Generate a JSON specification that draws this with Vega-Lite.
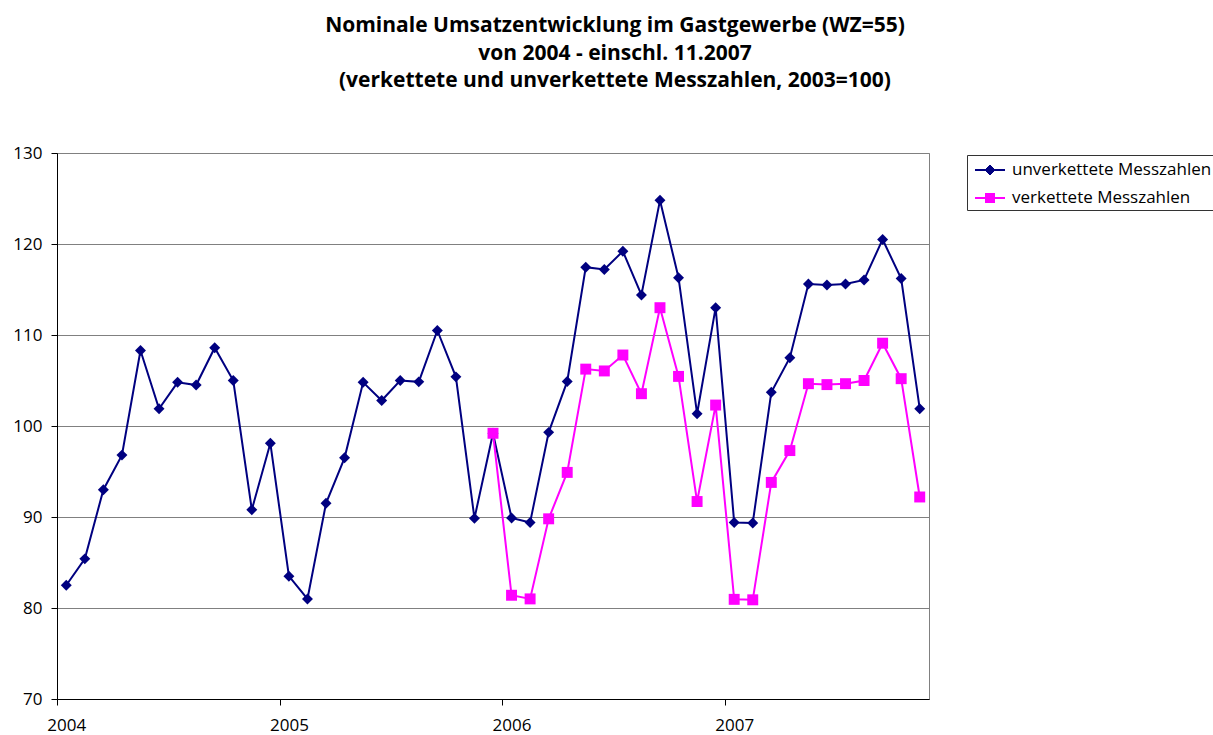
{
  "$schema": "https://vega.github.io/schema/vega-lite/v6.json",
  "width": 872,
  "height": 546,
  "autosize": "none",
  "padding": {"left": 57, "top": 153, "right": 284, "bottom": 36},
  "background": "white",
  "config": {
    "font": "Open Sans",
    "view": {"stroke": "#808080", "strokeWidth": 1},
    "axis": {"labelFont": "Open Sans", "labelFontSize": 17, "labelColor": "black", "tickColor": "black", "domainColor": "black", "tickSize": 6},
    "legend": {"labelFont": "Open Sans", "labelFontSize": 17, "labelColor": "black", "labelLimit": 400}
  },
  "title": {
    "text": ["Nominale Umsatzentwicklung im Gastgewerbe (WZ=55)", "von 2004 - einschl. 11.2007", "(verkettete und unverkettete Messzahlen, 2003=100)"],
    "font": "Open Sans",
    "fontSize": 21,
    "fontWeight": "bold",
    "lineHeight": 27.5,
    "anchor": "middle",
    "dx": 122,
    "offset": 53,
    "color": "black"
  },
  "data": {
    "values": [
      {"month": "2004-01", "series": "unverkettete Messzahlen", "value": 82.5},
      {"month": "2004-02", "series": "unverkettete Messzahlen", "value": 85.4},
      {"month": "2004-03", "series": "unverkettete Messzahlen", "value": 93.0},
      {"month": "2004-04", "series": "unverkettete Messzahlen", "value": 96.8},
      {"month": "2004-05", "series": "unverkettete Messzahlen", "value": 108.3},
      {"month": "2004-06", "series": "unverkettete Messzahlen", "value": 101.9},
      {"month": "2004-07", "series": "unverkettete Messzahlen", "value": 104.8},
      {"month": "2004-08", "series": "unverkettete Messzahlen", "value": 104.5},
      {"month": "2004-09", "series": "unverkettete Messzahlen", "value": 108.6},
      {"month": "2004-10", "series": "unverkettete Messzahlen", "value": 105.0},
      {"month": "2004-11", "series": "unverkettete Messzahlen", "value": 90.8},
      {"month": "2004-12", "series": "unverkettete Messzahlen", "value": 98.1},
      {"month": "2005-01", "series": "unverkettete Messzahlen", "value": 83.5},
      {"month": "2005-02", "series": "unverkettete Messzahlen", "value": 81.0},
      {"month": "2005-03", "series": "unverkettete Messzahlen", "value": 91.5},
      {"month": "2005-04", "series": "unverkettete Messzahlen", "value": 96.5},
      {"month": "2005-05", "series": "unverkettete Messzahlen", "value": 104.8},
      {"month": "2005-06", "series": "unverkettete Messzahlen", "value": 102.8},
      {"month": "2005-07", "series": "unverkettete Messzahlen", "value": 105.0},
      {"month": "2005-08", "series": "unverkettete Messzahlen", "value": 104.85},
      {"month": "2005-09", "series": "unverkettete Messzahlen", "value": 110.5},
      {"month": "2005-10", "series": "unverkettete Messzahlen", "value": 105.4},
      {"month": "2005-11", "series": "unverkettete Messzahlen", "value": 89.85},
      {"month": "2005-12", "series": "unverkettete Messzahlen", "value": 99.2},
      {"month": "2006-01", "series": "unverkettete Messzahlen", "value": 89.9},
      {"month": "2006-02", "series": "unverkettete Messzahlen", "value": 89.4},
      {"month": "2006-03", "series": "unverkettete Messzahlen", "value": 99.3},
      {"month": "2006-04", "series": "unverkettete Messzahlen", "value": 104.9},
      {"month": "2006-05", "series": "unverkettete Messzahlen", "value": 117.45},
      {"month": "2006-06", "series": "unverkettete Messzahlen", "value": 117.2},
      {"month": "2006-07", "series": "unverkettete Messzahlen", "value": 119.2},
      {"month": "2006-08", "series": "unverkettete Messzahlen", "value": 114.4},
      {"month": "2006-09", "series": "unverkettete Messzahlen", "value": 124.8},
      {"month": "2006-10", "series": "unverkettete Messzahlen", "value": 116.3},
      {"month": "2006-11", "series": "unverkettete Messzahlen", "value": 101.35},
      {"month": "2006-12", "series": "unverkettete Messzahlen", "value": 113.0},
      {"month": "2007-01", "series": "unverkettete Messzahlen", "value": 89.4},
      {"month": "2007-02", "series": "unverkettete Messzahlen", "value": 89.35},
      {"month": "2007-03", "series": "unverkettete Messzahlen", "value": 103.7},
      {"month": "2007-04", "series": "unverkettete Messzahlen", "value": 107.5},
      {"month": "2007-05", "series": "unverkettete Messzahlen", "value": 115.6},
      {"month": "2007-06", "series": "unverkettete Messzahlen", "value": 115.5},
      {"month": "2007-07", "series": "unverkettete Messzahlen", "value": 115.6},
      {"month": "2007-08", "series": "unverkettete Messzahlen", "value": 116.05},
      {"month": "2007-09", "series": "unverkettete Messzahlen", "value": 120.5},
      {"month": "2007-10", "series": "unverkettete Messzahlen", "value": 116.2},
      {"month": "2007-11", "series": "unverkettete Messzahlen", "value": 101.9},
      {"month": "2005-12", "series": "verkettete Messzahlen", "value": 99.2},
      {"month": "2006-01", "series": "verkettete Messzahlen", "value": 81.4},
      {"month": "2006-02", "series": "verkettete Messzahlen", "value": 81.0},
      {"month": "2006-03", "series": "verkettete Messzahlen", "value": 89.8},
      {"month": "2006-04", "series": "verkettete Messzahlen", "value": 94.9},
      {"month": "2006-05", "series": "verkettete Messzahlen", "value": 106.25},
      {"month": "2006-06", "series": "verkettete Messzahlen", "value": 106.05},
      {"month": "2006-07", "series": "verkettete Messzahlen", "value": 107.8},
      {"month": "2006-08", "series": "verkettete Messzahlen", "value": 103.55},
      {"month": "2006-09", "series": "verkettete Messzahlen", "value": 113.0},
      {"month": "2006-10", "series": "verkettete Messzahlen", "value": 105.45},
      {"month": "2006-11", "series": "verkettete Messzahlen", "value": 91.7},
      {"month": "2006-12", "series": "verkettete Messzahlen", "value": 102.3},
      {"month": "2007-01", "series": "verkettete Messzahlen", "value": 80.95},
      {"month": "2007-02", "series": "verkettete Messzahlen", "value": 80.9},
      {"month": "2007-03", "series": "verkettete Messzahlen", "value": 93.8},
      {"month": "2007-04", "series": "verkettete Messzahlen", "value": 97.3},
      {"month": "2007-05", "series": "verkettete Messzahlen", "value": 104.65},
      {"month": "2007-06", "series": "verkettete Messzahlen", "value": 104.55},
      {"month": "2007-07", "series": "verkettete Messzahlen", "value": 104.65},
      {"month": "2007-08", "series": "verkettete Messzahlen", "value": 105.0},
      {"month": "2007-09", "series": "verkettete Messzahlen", "value": 109.1},
      {"month": "2007-10", "series": "verkettete Messzahlen", "value": 105.2},
      {"month": "2007-11", "series": "verkettete Messzahlen", "value": 92.2}
    ]
  },
  "encoding": {
    "x": {
      "field": "month",
      "type": "ordinal",
      "scale": {"type": "point", "padding": 0.5},
      "sort": "ascending",
      "axis": {
        "title": null,
        "values": ["2004-01", "2005-01", "2006-01", "2007-01"],
        "labelExpr": "substring(datum.value, 0, 4)",
        "labelAngle": 0,
        "labelFontSize": 17,
        "tickOffset": -9.277,
        "labelOffset": 9.277,
        "labelPadding": 12,
        "grid": false
      }
    },
    "y": {
      "field": "value",
      "type": "quantitative",
      "scale": {"domain": [70, 130], "nice": false, "zero": false},
      "axis": {"title": null, "values": [70, 80, 90, 100, 110, 120, 130], "labelFontSize": 17, "grid": true, "gridColor": "#808080", "gridOpacity": 1, "labelPadding": 9}
    },
    "color": {
      "field": "series",
      "type": "nominal",
      "scale": {"domain": ["unverkettete Messzahlen", "verkettete Messzahlen"], "range": ["#000080", "#FF00FF"]},
      "legend": {"title": null, "orient": "none", "legendX": 910, "legendY": 2, "strokeColor": "#333333", "fillColor": "white", "padding": 4, "rowPadding": 9, "symbolSize": 400, "labelOffset": 19, "symbolOpacity": 1, "symbolStrokeWidth": 2, "labelFontSize": 17, "labelLimit": 400}
    }
  },
  "layer": [
    {"mark": {"type": "line", "strokeWidth": 2}},
    {
      "transform": [{"filter": "datum.series == 'unverkettete Messzahlen'"}],
      "mark": {"type": "point", "filled": true, "opacity": 1, "shape": "diamond", "size": 120}
    },
    {
      "transform": [{"filter": "datum.series == 'verkettete Messzahlen'"}],
      "mark": {"type": "point", "filled": true, "opacity": 1, "shape": "square", "size": 120}
    },
    {
      "mark": {"type": "point", "filled": false, "size": 0, "strokeWidth": 2},
      "encoding": {
        "shape": {
          "field": "series", "type": "nominal",
          "scale": {"domain": ["unverkettete Messzahlen", "verkettete Messzahlen"], "range": ["M-0.7,0H2.3M0.7,-0.4H0.9M0.6,-0.3H1M0.5,-0.2H1.1M0.4,-0.1H1.2M0.4,0.1H1.2M0.5,0.2H1.1M0.6,0.3H1M0.7,0.4H0.9", "M-0.7,0H2.3M0.3,-0.4H1.3M0.3,-0.3H1.3M0.3,-0.2H1.3M0.3,-0.1H1.3M0.3,0.1H1.3M0.3,0.2H1.3M0.3,0.3H1.3M0.3,0.4H1.3"]},
          "legend": null
        }
      }
    }
  ]
}
